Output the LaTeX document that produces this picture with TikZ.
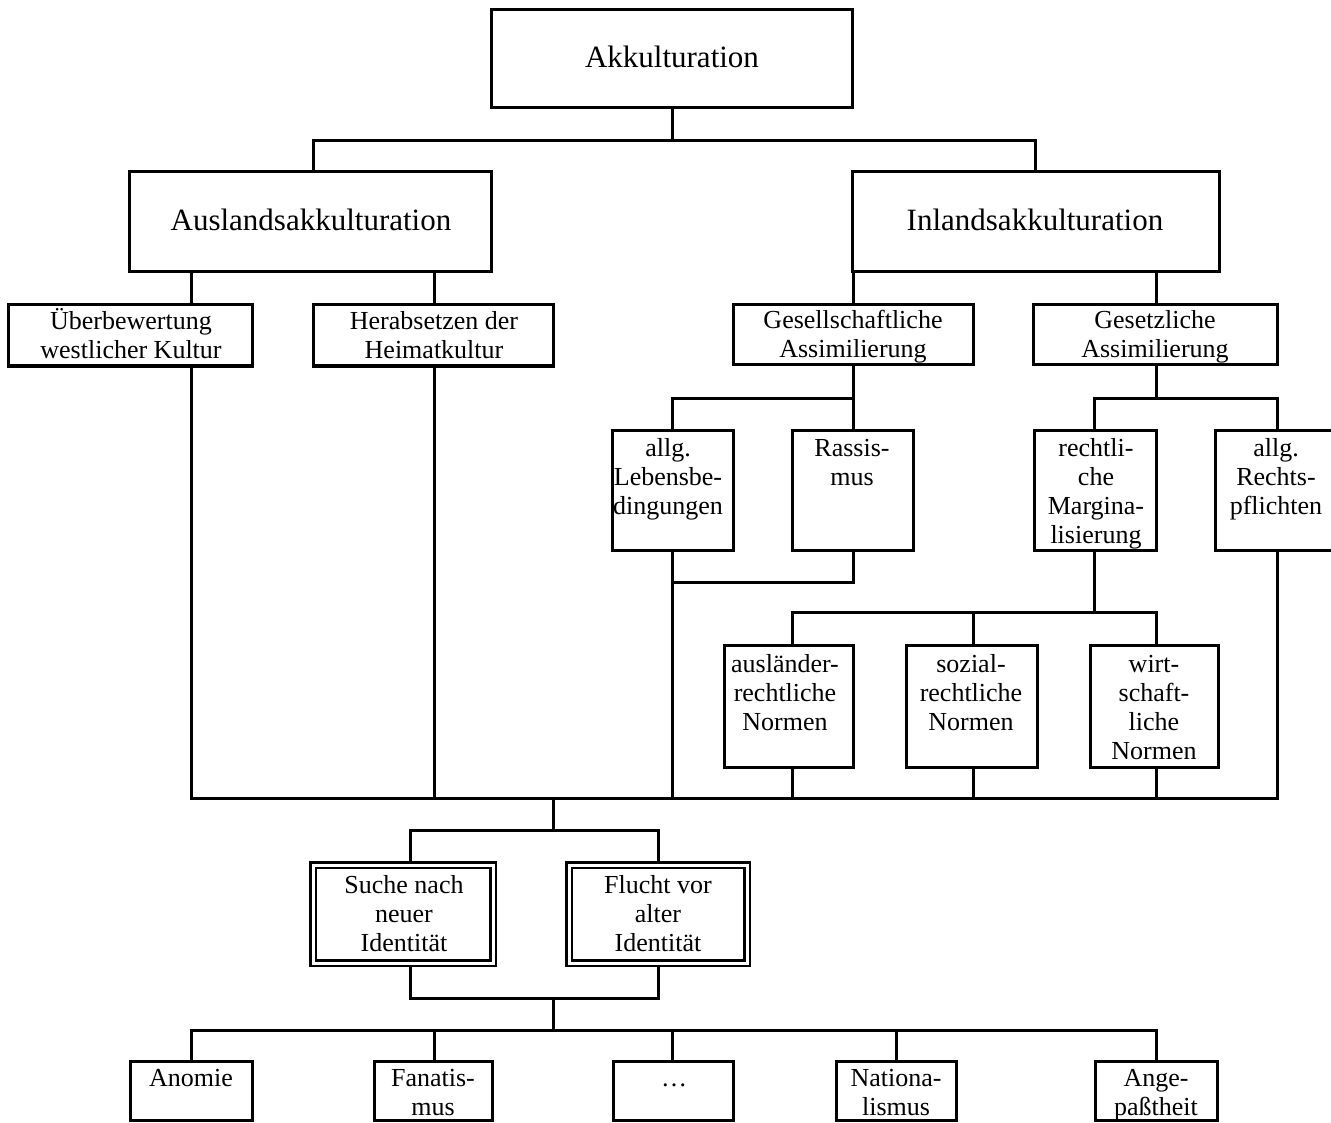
\documentclass[tikz,border=0pt]{standalone}
\usepackage{fontspec}
\setmainfont{Liberation Serif}
\tikzset{
  box/.style={draw, line width=3pt, inner sep=0pt},
  dbox/.style={draw, line width=2.2pt, double, double distance=3pt, inner sep=0pt, outer sep=3.7pt},
  conn/.style={line width=3pt},
  txt/.style={align=center, inner sep=0pt, font=\fontsize{26}{29}\selectfont, anchor=base},
  big/.style={inner sep=0pt, font=\fontsize{31}{36}\selectfont, anchor=base},
}
\newcommand\mkbox[6][box]{\node[#1, minimum width={(#5)-(#3)}, minimum height={(#6)-(#4)}] (#2) at ({((#3)+(#5))/2},{((#4)+(#6))/2}) {};}
\begin{document}
\begin{tikzpicture}[x=1pt,y=-1pt]
\useasboundingbox (0,0) rectangle (1331,1123);
% boxes
\mkbox{akk}{491}{10}{852}{108}
\mkbox{aus}{129}{172}{491}{272}
\mkbox{inl}{852}{172}{1219}{272}
\mkbox{ueb}{8}{305}{252}{366}
\mkbox{her}{313}{305}{553}{366}
\mkbox{ges}{733}{305}{973}{365}
\mkbox{gst}{1033}{305}{1277}{365}
\mkbox{leb}{612}{430}{733}{550}
\mkbox{ras}{792}{430}{913}{550}
\mkbox{rem}{1034}{430}{1156}{550}
\mkbox{rpf}{1215}{430}{1339}{550}
\mkbox{aln}{724}{645}{853}{767}
\mkbox{soz}{906}{645}{1037}{767}
\mkbox{wir}{1090}{645}{1218}{767}
\mkbox[dbox]{such}{313}{865}{493}{963}
\mkbox[dbox]{flu}{569}{865}{747}{963}
\mkbox{ano}{130}{1061}{252}{1120}
\mkbox{fan}{374}{1061}{492}{1120}
\mkbox{dot}{613}{1061}{733}{1120}
\mkbox{nat}{836}{1061}{956}{1120}
\mkbox{ang}{1095}{1061}{1217}{1120}
% texts (anchor = baseline of the last line)
\node[big] (akk-t) at (672,68) {Akkulturation};
\node[big] (aus-t) at (311,231) {Auslandsakkulturation};
\node[big] (inl-t) at (1035,231) {Inlandsakkulturation};
\node[txt] (ueb-t) at (131,359) {Überbewertung\\westlicher Kultur};
\node[txt] (her-t) at (434,359) {Herabsetzen der\\Heimatkultur};
\node[txt] (ges-t) at (853,358) {Gesellschaftliche\\Assimilierung};
\node[txt] (gst-t) at (1155,358) {Gesetzliche\\Assimilierung};
\node[txt] (leb-t) at (668,514) {allg.\\Lebensbe-\\dingungen};
\node[txt] (ras-t) at (852,485) {Rassis-\\mus};
\node[txt] (rem-t) at (1096,543) {rechtli-\\che\\Margina-\\lisierung};
\node[txt] (rpf-t) at (1276,514) {allg.\\Rechts-\\pflichten};
\node[txt] (aln-t) at (785,730) {ausländer-\\rechtliche\\Normen};
\node[txt] (soz-t) at (971,730) {sozial-\\rechtliche\\Normen};
\node[txt] (wir-t) at (1154,759) {wirt-\\schaft-\\liche\\Normen};
\node[txt] (such-t) at (404,951) {Suche nach\\neuer\\Identität};
\node[txt] (flu-t) at (658,951) {Flucht vor\\alter\\Identität};
\node[txt] (ano-t) at (191,1086) {Anomie};
\node[txt] (fan-t) at (433,1115) {Fanatis-\\mus};
\node[txt] (dot-t) at (674,1086) {…};
\node[txt] (nat-t) at (896,1115) {Nationa-\\lismus};
\node[txt] (ang-t) at (1156,1115) {Ange-\\paßtheit};
% junction coordinates
\coordinate (x191) at (191,0);
\coordinate (x434) at (434,0);
\coordinate (x313) at (313,0);
\coordinate (x1156) at (1156,0);
\coordinate (x1094) at (1094,0);
\coordinate (x792) at (792,0);
\coordinate (x973) at (973,0);
\coordinate (x672) at (672,0);
\coordinate (x410) at (410,0);
\coordinate (x658) at (658,0);
\coordinate (j0) at (672,141);
\coordinate (j1) at (853,398);
\coordinate (j2) at (1156,398);
\coordinate (j3) at (853,582);
\coordinate (j4) at (1094,612);
\coordinate (mb) at (553,798);
\coordinate (j5) at (553,830);
\coordinate (j6) at (553,998);
\coordinate (j7) at (553,1030);
% connectors
\draw[conn] (akk.south -| x672) -- (j0);
\draw[conn] (aus.north -| x313) |- (j0) -| (inl.north);
\draw[conn] (aus.south -| x191) -- (ueb.north -| x191);
\draw[conn] (aus.south -| x434) -- (her.north -| x434);
\draw[conn] (inl.south -| ges.north) -- (ges.north);
\draw[conn] (inl.south -| x1156) -- (gst.north -| x1156);
\draw[conn] (ges.south) -- (j1) -| (leb.north);
\draw[conn] (j1) -- (ras.north -| j1);
\draw[conn] (gst.south -| x1156) -- (j2) -| (rpf.north);
\draw[conn] (j2) -| (rem.north -| x1094);
\draw[conn] (ras.south -| j3) -- (j3) -| (leb.south);
\draw[conn] (rem.south -| x1094) -- (j4) -| (aln.north -| x792);
\draw[conn] (j4) -| (wir.north -| x1156);
\draw[conn] (soz.north -| x973) -- (j4 -| x973);
\draw[conn] (ueb.south -| x191) |- (mb) -| (rpf.south);
\draw[conn] (her.south -| x434) -- (mb -| x434);
\draw[conn] (leb.south) -- (mb -| leb.south);
\draw[conn] (aln.south -| x792) -- (mb -| x792);
\draw[conn] (soz.south -| x973) -- (mb -| x973);
\draw[conn] (wir.south -| x1156) -- (mb -| x1156);
\draw[conn] (mb) -- (j5);
\draw[conn] (such.north -| x410) |- (j5) -| (flu.north);
\draw[conn] (such.south -| x410) |- (j6) -| (flu.south);
\draw[conn] (j6) -- (j7);
\draw[conn] (ano.north) |- (j7) -| (ang.north);
\draw[conn] (fan.north -| x434) -- (j7 -| x434);
\draw[conn] (dot.north -| x672) -- (j7 -| x672);
\draw[conn] (nat.north) -- (j7 -| nat.north);
\end{tikzpicture}
\end{document}
